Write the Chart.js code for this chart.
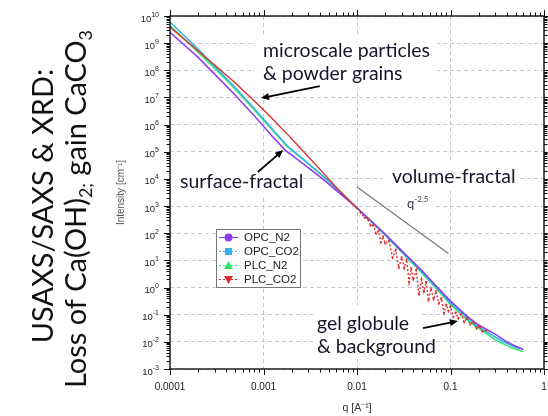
<!DOCTYPE html>
<html>
<head>
<meta charset="utf-8">
<script src="https://cdn.jsdelivr.net/npm/chart.js@4.4.1/dist/chart.umd.min.js"></script>
<style>
  html, body { margin: 0; padding: 0; background: #fff; overflow: hidden; }
  canvas { display: block; }
</style>
</head>
<body>
<canvas id="saxsChart" width="548" height="416"></canvas>
<script>
// axis decades
const qTicks = [0.0001, 0.001, 0.01, 0.1, 1];
const qTickLabels = ['0.0001', '0.001', '0.01', '0.1', '1'];
const intensityTicks = [1e-3, 1e-2, 1e-1, 1e0, 1e1, 1e2, 1e3, 1e4, 1e5, 1e6, 1e7, 1e8, 1e9, 1e10];
const intensityExponents = ['-3', '-2', '-1', '0', '1', '2', '3', '4', '5', '6', '7', '8', '9', '10'];

const seriesNames = ['OPC_N2', 'OPC_CO2', 'PLC_N2', 'PLC_CO2'];
const seriesColors = ['#8a3cf0', '#36b2ea', '#2ee26e', '#dc2e2e'];

// OPC_N2
const opcN2Q = [1e-4, 2e-4, 3e-4, 5e-4, 8e-4, 1.2e-3, 1.7e-3, 2.5e-3, 4.2e-3, 6e-3, 0.01, 0.015, 0.02, 0.03, 0.05, 0.07, 0.1, 0.15, 0.2, 0.3, 0.4, 0.5, 0.6];
const opcN2I = [2.51e9, 3.0e8, 7.24e7, 1.2e7, 2.09e6, 4.27e5, 1.15e5, 4.27e4, 1.07e4, 3.8e3, 851, 234, 93, 22.9, 4.07, 1.17, 0.316, 0.089, 0.0417, 0.0191, 0.0100, 0.0069, 0.0052];

// OPC_CO2
const opcCo2Q = [1e-4, 2e-4, 3e-4, 5e-4, 8e-4, 1.2e-3, 1.8e-3, 2.5e-3, 4.2e-3, 6e-3, 0.01, 0.015, 0.02, 0.03, 0.05, 0.07, 0.1, 0.15, 0.2, 0.3, 0.4, 0.55];
const opcCo2I = [6.03e9, 6.03e8, 1.41e8, 2.29e7, 3.8e6, 7.76e5, 1.62e5, 6.31e4, 1.41e4, 4.57e3, 871, 234, 89, 21.4, 3.63, 1.05, 0.275, 0.0794, 0.0355, 0.0151, 0.0087, 0.0055];

// PLC_N2
const plcN2Q = [1e-4, 2e-4, 3e-4, 5e-4, 8e-4, 1.2e-3, 1.8e-3, 2.5e-3, 4.2e-3, 6e-3, 0.01, 0.015, 0.02, 0.03, 0.05, 0.07, 0.1, 0.15, 0.2, 0.3, 0.4, 0.5, 0.6];
const plcN2I = [4.47e9, 4.68e8, 1.2e8, 2.0e7, 3.47e6, 7.24e5, 1.55e5, 6.17e4, 1.38e4, 4.47e3, 851, 224, 85, 20, 3.31, 0.933, 0.24, 0.066, 0.0316, 0.012, 0.00724, 0.00537, 0.00437];

// PLC_CO2 (noisy above q = 0.01)
const plcCo2Q = [1e-4, 2e-4, 3e-4, 5e-4, 1e-3, 1.8e-3, 2.5e-3, 4.2e-3, 6e-3,
  0.010, 0.011, 0.012, 0.013, 0.014, 0.015, 0.016, 0.017, 0.018, 0.019, 0.020,
  0.022, 0.024, 0.026, 0.028, 0.030, 0.032, 0.034, 0.036, 0.038, 0.040,
  0.043, 0.046, 0.049, 0.052, 0.055, 0.058, 0.062, 0.066, 0.070, 0.075,
  0.080, 0.085, 0.090, 0.095, 0.100, 0.107, 0.114, 0.121, 0.130, 0.140,
  0.150, 0.162, 0.175, 0.190, 0.205, 0.220, 0.240];
const plcCo2I = [3.89e9, 5.13e8, 1.58e8, 3.39e7, 3.55e6, 4.47e5, 1.32e5, 1.9e4, 4.9e3,
  813, 562, 380, 339, 191, 195, 95.5, 120, 46.8, 77.6, 41.7,
  53.7, 12.6, 24.0, 5.25, 12.9, 5.25, 10.7, 1.58, 5.25, 1.95,
  4.37, 0.537, 1.95, 0.708, 1.62, 0.331, 0.933, 0.363, 0.741, 0.257,
  0.407, 0.115, 0.234, 0.135, 0.200, 0.0832, 0.120, 0.0724, 0.105, 0.0525,
  0.0776, 0.0437, 0.0550, 0.0309, 0.0389, 0.0245, 0.0257];

// q^-2.5 guide line
const slopeQ = [0.01, 0.095];
const slopeI = [5000, 18];

function toPoints(qs, vals) {
    return qs.map((q, i) => ({ x: q, y: vals[i] }));
}

function drawRuns(ctx, runs, x, y, size, family, rotated, align) {
    ctx.save();
    ctx.translate(x, y);
    if (rotated) ctx.rotate(-Math.PI / 2);
    let total = 0;
    runs.forEach(r => {
        ctx.font = (size * (r.scale || 1)) + 'px ' + family;
        r.w = ctx.measureText(r.text).width;
        total += r.w;
    });
    let cursor = align === 'center' ? -total / 2 : 0;
    ctx.textAlign = 'left';
    ctx.textBaseline = 'alphabetic';
    runs.forEach(r => {
        ctx.font = (size * (r.scale || 1)) + 'px ' + family;
        ctx.fillText(r.text, cursor, (r.shift || 0) * size);
        cursor += r.w;
    });
    ctx.restore();
}

function fitSize(ctx, text, family, width) {
    ctx.font = '100px ' + family;
    return 100 * width / ctx.measureText(text).width;
}

function drawArrow(ctx, x1, y1, x2, y2) {
    const ang = Math.atan2(y2 - y1, x2 - x1);
    const head = 8, half = 3.5;
    ctx.save();
    ctx.strokeStyle = '#000';
    ctx.fillStyle = '#000';
    ctx.lineWidth = 1.8;
    ctx.beginPath();
    ctx.moveTo(x1, y1);
    ctx.lineTo(x2 - Math.cos(ang) * head * 0.8, y2 - Math.sin(ang) * head * 0.8);
    ctx.stroke();
    ctx.beginPath();
    ctx.moveTo(x2, y2);
    ctx.lineTo(x2 - Math.cos(ang) * head - Math.sin(ang) * half, y2 - Math.sin(ang) * head + Math.cos(ang) * half);
    ctx.lineTo(x2 - Math.cos(ang) * head + Math.sin(ang) * half, y2 - Math.sin(ang) * head - Math.cos(ang) * half);
    ctx.closePath();
    ctx.fill();
    ctx.restore();
}

function drawMarker(ctx, style, x, y, color) {
    ctx.save();
    ctx.fillStyle = color;
    ctx.beginPath();
    if (style === 'circle') {
        ctx.arc(x, y, 4, 0, Math.PI * 2);
    } else if (style === 'square') {
        ctx.rect(x - 3.5, y - 3.5, 7, 7);
    } else if (style === 'up') {
        ctx.moveTo(x, y - 4.5); ctx.lineTo(x + 4.5, y + 3.5); ctx.lineTo(x - 4.5, y + 3.5);
    } else {
        ctx.moveTo(x, y + 4.5); ctx.lineTo(x + 4.5, y - 3.5); ctx.lineTo(x - 4.5, y - 3.5);
    }
    ctx.closePath();
    ctx.fill();
    ctx.restore();
}

const decor = {
    id: 'decor',
    beforeDatasetsDraw(chart) {
        const ctx = chart.ctx;
        ctx.save();
        ctx.fillStyle = '#fff';
        // white backing behind the annotation texts
        ctx.fillRect(255, 34, 182, 55);
        ctx.fillRect(172, 163, 131, 33);
        ctx.fillRect(383, 163, 137, 28);
        ctx.fillRect(402, 196, 34, 17);
        ctx.fillRect(313, 305, 107, 53);
        ctx.restore();
    },
    afterDraw(chart) {
        const ctx = chart.ctx;
        const area = chart.chartArea;
        const xs = chart.scales.x, ys = chart.scales.y;

        // frame
        ctx.save();
        ctx.strokeStyle = '#111';
        ctx.lineWidth = 1.4;
        ctx.strokeRect(area.left, area.top, area.right - area.left, area.bottom - area.top);

        // tick marks, outward on all four sides
        ctx.lineWidth = 1;
        ctx.beginPath();
        for (let n = -4; n <= 0; n++) {
            for (let m = 1; m <= 9; m++) {
                const v = m * Math.pow(10, n);
                if (v > 1.0001) continue;
                const px = Math.round(xs.getPixelForValue(v)) + 0.5;
                const len = m === 1 ? 6 : 3.5;
                ctx.moveTo(px, area.bottom); ctx.lineTo(px, area.bottom + len);
                ctx.moveTo(px, area.top); ctx.lineTo(px, area.top - len);
            }
        }
        for (let n = -3; n <= 10; n++) {
            for (let m = 1; m <= 9; m++) {
                const v = m * Math.pow(10, n);
                if (v > 1.0001e10) continue;
                const py = Math.round(ys.getPixelForValue(v)) + 0.5;
                const len = m === 1 ? 6 : 3.5;
                ctx.moveTo(area.left, py); ctx.lineTo(area.left - len, py);
                ctx.moveTo(area.right, py); ctx.lineTo(area.right + len, py);
            }
        }
        ctx.stroke();

        // y tick labels 10^n
        ctx.fillStyle = '#222';
        intensityTicks.forEach((v, i) => {
            const py = ys.getPixelForValue(v);
            const exp = intensityExponents[i];
            ctx.font = '7px Arial';
            const ew = ctx.measureText(exp).width;
            ctx.textAlign = 'left';
            ctx.textBaseline = 'alphabetic';
            ctx.fillText(exp, 159 - ew, py + 0.5);
            ctx.font = '9.5px Arial';
            ctx.textAlign = 'right';
            ctx.fillText('10', 159 - ew, py + 5.5);
        });

        // x tick labels
        ctx.font = '10px Arial';
        ctx.textAlign = 'center';
        ctx.textBaseline = 'alphabetic';
        qTicks.forEach((v, i) => {
            ctx.fillText(qTickLabels[i], xs.getPixelForValue(v), area.bottom + 21);
        });
        ctx.restore();

        // annotations
        const fam = 'Lato, "Open Sans", sans-serif';
        const s = fitSize(ctx, 'microscale particles', fam, 167);
        ctx.save();
        ctx.fillStyle = '#16162a';
        ctx.font = s + 'px ' + fam;
        ctx.textAlign = 'left';
        ctx.textBaseline = 'alphabetic';
        ctx.fillText('microscale particles', 263, 57);
        ctx.fillText('& powder grains', 263, 80);
        ctx.fillText('surface-fractal', 180, 188);
        ctx.fillText('volume-fractal', 392, 183);
        ctx.fillText('gel globule', 317, 330);
        ctx.fillText('& background', 317, 353);
        ctx.fillStyle = '#3a3a55';
        drawRuns(ctx, [{ text: 'q' }, { text: '-2.5', scale: 0.62, shift: -0.5 }], 407, 208, 13, fam, false, 'left');
        ctx.restore();

        // arrows, anchored in data space
        const ap = (q, v) => [xs.getPixelForValue(q), ys.getPixelForValue(v)];
        drawArrow(ctx, ...ap(4.0e-3, 2.6e7), ...ap(9.4e-4, 9.5e6));
        drawArrow(ctx, ...ap(8.7e-4, 1.8e4), ...ap(1.62e-3, 1.15e5));
        drawArrow(ctx, ...ap(0.0508, 0.032), ...ap(0.12, 0.058));

        // legend
        ctx.save();
        ctx.fillStyle = '#fff';
        ctx.strokeStyle = '#777';
        ctx.lineWidth = 1;
        ctx.fillRect(216, 229, 84, 58);
        ctx.strokeRect(216.5, 229.5, 84, 58);
        const markers = ['circle', 'square', 'up', 'down'];
        seriesNames.forEach((name, i) => {
            const y = 237.5 + i * 14;
            ctx.strokeStyle = seriesColors[i];
            ctx.lineWidth = 1;
            ctx.setLineDash(i === 0 ? [] : [2, 2]);
            ctx.beginPath();
            ctx.moveTo(219, y); ctx.lineTo(238, y);
            ctx.stroke();
            ctx.setLineDash([]);
            drawMarker(ctx, markers[i], 228.5, y, seriesColors[i]);
            ctx.fillStyle = '#222';
            ctx.font = '11.5px Arial';
            ctx.textAlign = 'left';
            ctx.textBaseline = 'middle';
            ctx.fillText(name, 244, y + 0.5);
        });
        ctx.restore();

        // slide caption on the left, rotated
        const line2 = [
            { text: 'Loss of Ca(OH)' }, { text: '2;', scale: 0.62, shift: 0.2 },
            { text: ' gain CaCO' }, { text: '3', scale: 0.62, shift: 0.2 }
        ];
        ctx.save();
        let w100 = 0;
        line2.forEach(r => { ctx.font = (100 * (r.scale || 1)) + 'px ' + fam; w100 += ctx.measureText(r.text).width; });
        const big = 100 * 358 / w100;
        ctx.fillStyle = '#111';
        drawRuns(ctx, [{ text: 'USAXS/SAXS & XRD:' }], 53, 206, big, fam, true, 'center');
        drawRuns(ctx, line2, 86, 209, big, fam, true, 'center');
        ctx.restore();
    }
};

const ctx = document.getElementById('saxsChart').getContext('2d');
const saxsChart = new Chart(ctx, {
    type: 'line',
    data: {
        datasets: [
            {
                label: seriesNames[3],
                data: toPoints(plcCo2Q, plcCo2I),
                borderColor: seriesColors[3],
                backgroundColor: seriesColors[3],
                borderWidth: 1.4,
                pointStyle: 'triangle',
                rotation: 180,
                pointRadius: c => (c.raw && c.raw.x > 0.0105 ? 1.6 : 0),
                pointBorderWidth: 0,
                segment: { borderDash: c => (c.p0.parsed.x >= 0.0099 ? [2, 2] : undefined) },
                order: 0
            },
            {
                label: seriesNames[0],
                data: toPoints(opcN2Q, opcN2I),
                borderColor: seriesColors[0],
                borderWidth: 1.5,
                pointRadius: 0,
                order: 1
            },
            {
                label: seriesNames[1],
                data: toPoints(opcCo2Q, opcCo2I),
                borderColor: seriesColors[1],
                borderWidth: 1.5,
                pointRadius: 0,
                order: 2
            },
            {
                label: seriesNames[2],
                data: toPoints(plcN2Q, plcN2I),
                borderColor: seriesColors[2],
                borderWidth: 1.5,
                pointRadius: 0,
                order: 3
            },
            {
                label: 'q^-2.5',
                data: toPoints(slopeQ, slopeI),
                borderColor: '#777',
                borderWidth: 1.2,
                pointRadius: 0,
                order: 4
            }
        ]
    },
    options: {
        responsive: false,
        animation: false,
        devicePixelRatio: 1,
        layout: { padding: { left: 110, right: 4, top: 16, bottom: 0 } },
        plugins: { legend: { display: false }, tooltip: { enabled: false } },
        scales: {
            x: {
                type: 'logarithmic',
                min: 1e-4,
                max: 1,
                afterBuildTicks: s => { s.ticks = qTicks.map(v => ({ value: v })); },
                afterFit: s => { s.height = 47; },
                ticks: { display: false },
                grid: { color: '#c6c6da', lineWidth: 1, drawTicks: false },
                border: { display: false, dash: [4, 3] },
                title: {
                    display: true,
                    text: 'q [A\u207B\u00B9]',
                    color: '#333',
                    font: { family: 'Arial', size: 10.5 },
                    padding: { top: 0, bottom: 2 }
                }
            },
            y: {
                type: 'logarithmic',
                min: 1e-3,
                max: 1e10,
                afterBuildTicks: s => { s.ticks = intensityTicks.map(v => ({ value: v })); },
                afterFit: s => { s.width = 60; },
                ticks: { display: false },
                grid: { color: '#c6c6da', lineWidth: 1, drawTicks: false },
                border: { display: false, dash: [4, 3] },
                title: {
                    display: true,
                    text: 'Intensity [cm\u207B\u00B9]',
                    color: '#555',
                    font: { family: 'Arial', size: 10 },
                    padding: { top: 5, bottom: 0 }
                }
            }
        }
    },
    plugins: [decor]
});
</script>
</body>
</html>
